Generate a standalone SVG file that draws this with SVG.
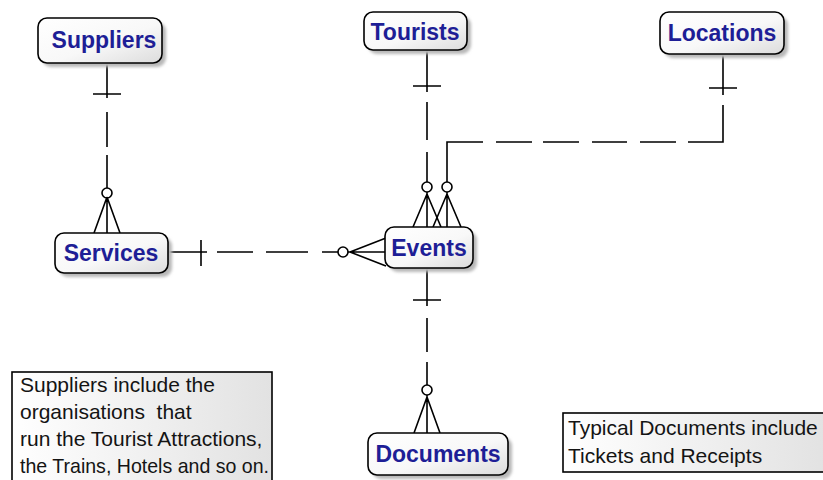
<svg xmlns="http://www.w3.org/2000/svg" width="823" height="480" viewBox="0 0 823 480">
  <style>
    .entity rect.body { fill: url(#entityFill); stroke: #000; stroke-width: 1.6; }
    .entity rect.shadow { fill: #b8b8b8; filter: url(#soft); }
    .entity text { font-family: "Liberation Sans", Arial, sans-serif; font-weight: bold; font-size: 23px; fill: #1e1e96; text-anchor: middle; }
    .note rect.body { fill: url(#noteFill); stroke: #000; stroke-width: 1.6; }
    .note text { font-family: "Liberation Sans", Arial, sans-serif; font-size: 21px; fill: #141414; white-space: pre; }
    #connectors path { fill: none; stroke: #000; stroke-width: 1.6; }
    #connectors circle { fill: #fff; stroke: #000; stroke-width: 1.6; }
  </style>
  <defs>
    <linearGradient id="entityFill" x1="0" y1="0" x2="1" y2="1">
      <stop offset="0" stop-color="#ffffff"/>
      <stop offset="0.55" stop-color="#f8f8f8"/>
      <stop offset="1" stop-color="#dcdcdc"/>
    </linearGradient>
    <linearGradient id="noteFill" x1="0" y1="0" x2="1" y2="0">
      <stop offset="0" stop-color="#ffffff"/>
      <stop offset="1" stop-color="#e2e2e2"/>
    </linearGradient>
    <filter id="soft" x="-10%" y="-10%" width="120%" height="130%">
      <feGaussianBlur stdDeviation="1.5"/>
    </filter>
  </defs>

  <rect width="823" height="480" fill="#fff"/>

  <!-- relationship lines -->
  <g id="connectors">
    <!-- Suppliers to Services -->
    <path d="M107 63 V98 M93 94 H121 M107 112 V147 M107 155 V188"/>
    <circle cx="107" cy="193" r="5"/>
    <path d="M107 198 V233 M107 197 L94 233 M107 197 L120 233"/>

    <!-- Tourists to Events -->
    <path d="M427 48 V92 M413 86 H441 M427 102 V140 M427 152 V182"/>
    <circle cx="427" cy="187" r="5"/>
    <path d="M427 192 V227 M427 194 L413 227 M427 194 L441 227"/>

    <!-- Locations to Events -->
    <path d="M723 54 V95 M709 88 H737 M723 105 V142 H688 M676 142 H640 M627 142 H592 M579 142 H543 M532 142 H496 M483 142 H447 V182"/>
    <circle cx="447" cy="187" r="5"/>
    <path d="M447 192 V227 M447 194 L433 227 M447 194 L461 227"/>

    <!-- Services to Events -->
    <path d="M168 252 H207 M201 240 V266 M217 252 H253 M266 252 H308 M322 252 H338"/>
    <circle cx="343" cy="252" r="5"/>
    <path d="M348 252 H386 M350 252 L386 238 M350 252 L386 266"/>

    <!-- Events to Documents -->
    <path d="M427 268 V306 M413 300 H441 M427 318 V352 M427 362 V385"/>
    <circle cx="427" cy="390" r="5"/>
    <path d="M427 395 V433 M427 397 L414 433 M427 397 L440 433"/>
  </g>

  <g id="suppliers" class="entity">
    <rect class="shadow" x="42" y="22" width="124" height="45" rx="9"/>
    <rect class="body" x="38" y="18" width="124" height="45" rx="9"/>
    <text x="104" y="48">Suppliers</text>
  </g>

  <g id="tourists" class="entity">
    <rect class="shadow" x="368" y="16" width="103" height="38" rx="9"/>
    <rect class="body" x="364" y="12" width="103" height="38" rx="9"/>
    <text x="415" y="40">Tourists</text>
  </g>

  <g id="locations" class="entity">
    <rect class="shadow" x="664" y="16" width="124" height="42" rx="9"/>
    <rect class="body" x="660" y="12" width="124" height="42" rx="9"/>
    <text x="722" y="41">Locations</text>
  </g>

  <g id="services" class="entity">
    <rect class="shadow" x="59" y="237" width="113" height="40" rx="9"/>
    <rect class="body" x="55" y="233" width="113" height="40" rx="9"/>
    <text x="111" y="261">Services</text>
  </g>

  <g id="events" class="entity">
    <rect class="shadow" x="389" y="231" width="88" height="41" rx="9"/>
    <rect class="body" x="385" y="227" width="88" height="41" rx="9"/>
    <text x="429" y="256">Events</text>
  </g>

  <g id="documents" class="entity">
    <rect class="shadow" x="372" y="437" width="140" height="42" rx="9"/>
    <rect class="body" x="368" y="433" width="140" height="42" rx="9"/>
    <text x="438" y="462">Documents</text>
  </g>

  <g id="note-suppliers" class="note">
    <rect class="body" x="12" y="372" width="260" height="115"/>
    <text x="20" y="392">Suppliers include the</text>
    <text x="20" y="419">organisations  that</text>
    <text x="20" y="446">run the Tourist Attractions,</text>
    <text x="20" y="473" textLength="249" lengthAdjust="spacingAndGlyphs">the Trains, Hotels and so on.</text>
  </g>

  <g id="note-documents" class="note">
    <rect class="body" x="563" y="413" width="265" height="59"/>
    <text x="568" y="435">Typical Documents include</text>
    <text x="568" y="463">Tickets and Receipts</text>
  </g>
</svg>
